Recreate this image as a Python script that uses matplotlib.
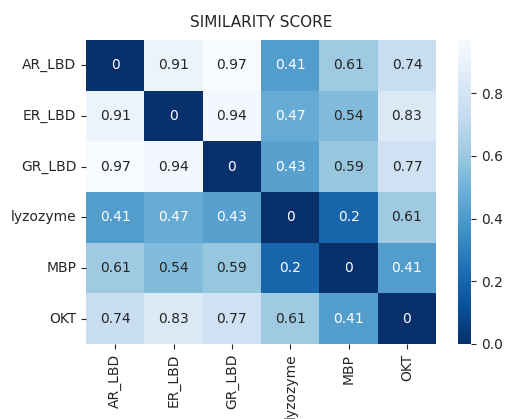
import numpy as np
import matplotlib
matplotlib.use("Agg")
import matplotlib.pyplot as plt
import seaborn as sns

labels = ["AR_LBD", "ER_LBD", "GR_LBD", "lyzozyme", "MBP", "OKT"]
row_AR = [0, 0.91, 0.97, 0.41, 0.61, 0.74]
row_ER = [0.91, 0, 0.94, 0.47, 0.54, 0.83]
row_GR = [0.97, 0.94, 0, 0.43, 0.59, 0.77]
row_LY = [0.41, 0.47, 0.43, 0, 0.2, 0.61]
row_MBP = [0.61, 0.54, 0.59, 0.2, 0, 0.41]
row_OKT = [0.74, 0.83, 0.77, 0.61, 0.41, 0]

data = np.array([row_AR, row_ER, row_GR, row_LY, row_MBP, row_OKT])

plt.rcParams["text.color"] = "#262626"
plt.rcParams["xtick.color"] = "#262626"
plt.rcParams["ytick.color"] = "#262626"

fig = plt.figure(figsize=(5.06, 4.19), dpi=100)
ax = fig.add_axes([0.170, 0.179, 0.692, 0.726])
cax = fig.add_axes([0.905, 0.179, 0.026, 0.726])
sns.heatmap(data, ax=ax, cbar_ax=cax, cmap="Blues_r", annot=True,
            annot_kws={"fontsize": 10}, xticklabels=labels, yticklabels=labels)
ax.set_title("SIMILARITY SCORE", fontsize=11, color="#262626", pad=9)
ax.tick_params(axis="both", labelsize=10)
plt.setp(ax.get_xticklabels(), rotation=90)
plt.setp(ax.get_yticklabels(), rotation=0)
cax.tick_params(labelsize=10)
cax.set_yticks([0.0, 0.2, 0.4, 0.6, 0.8])
fig.savefig("out.png", dpi=100)
